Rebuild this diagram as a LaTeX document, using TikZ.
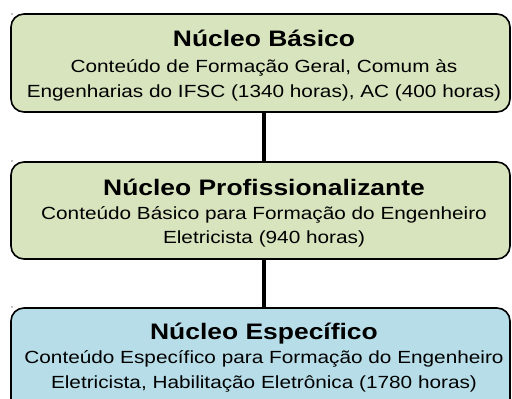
\documentclass[tikz,border=0pt]{standalone}
\usepackage{fontspec}
\setmainfont{Liberation Sans}[FakeStretch=1.18]
\definecolor{boxgreen}{RGB}{215,228,189}
\definecolor{boxblue}{RGB}{183,222,232}
\begin{document}
\begin{tikzpicture}[x=1pt,y=1pt,
  box/.style={draw=black, line width=1.6pt, rounded corners=13pt, minimum width=499pt, inner sep=0pt},
  titletext/.style={anchor=base, font=\fontsize{22.4}{26}\selectfont\bfseries, inner sep=0pt},
  bodytext/.style={anchor=base, font=\fontsize{17.6}{21}\selectfont, inner sep=0pt},
  link/.style={line width=4pt, black},
  dotmark/.style={fill=black, inner sep=0pt, minimum size=1.3pt, circle}]
\useasboundingbox (0,0) rectangle (512,399);
\clip (0,0) rectangle (512,399);
% boxes
\node[box, fill=boxgreen, minimum height=98pt] (b1) at (260.5,336) {};
\node[box, fill=boxgreen, minimum height=97pt] (b2) at (260.5,188.5) {};
\node[box, fill=boxblue, minimum height=110pt] (b3) at (260.5,36) {};
% connectors
\draw[link] (264,0 |- b1.south) coordinate (c1s) -- (264,0 |- b2.north) coordinate (c1e);
\draw[link] (264,0 |- b2.south) coordinate (c2s) -- (264,0 |- b3.north) coordinate (c2e);
% dots
\node[dotmark] (d1) at (12,385) {};
\node[dotmark] (d2) at (12,238) {};
\node[dotmark] (d3) at (12,92) {};
% texts box 1
\node[titletext] (t1) at (264,352) {Núcleo Básico};
\node[bodytext] (t1a) at (264,326) {Conteúdo de Formação Geral, Comum às};
\node[bodytext] (t1b) at (264,301) {Engenharias do IFSC (1340 horas), AC (400 horas)};
% texts box 2
\node[titletext] (t2) at (264,203) {Núcleo Profissionalizante};
\node[bodytext] (t2a) at (264,179) {Conteúdo Básico para Formação do Engenheiro};
\node[bodytext] (t2b) at (264,155) {Eletricista (940 horas)};
% texts box 3
\node[titletext] (t3) at (264,59) {Núcleo Específico};
\node[bodytext] (t3a) at (264,35) {Conteúdo Específico para Formação do Engenheiro};
\node[bodytext] (t3b) at (264,10) {Eletricista, Habilitação Eletrônica (1780 horas)};
\end{tikzpicture}
\end{document}
